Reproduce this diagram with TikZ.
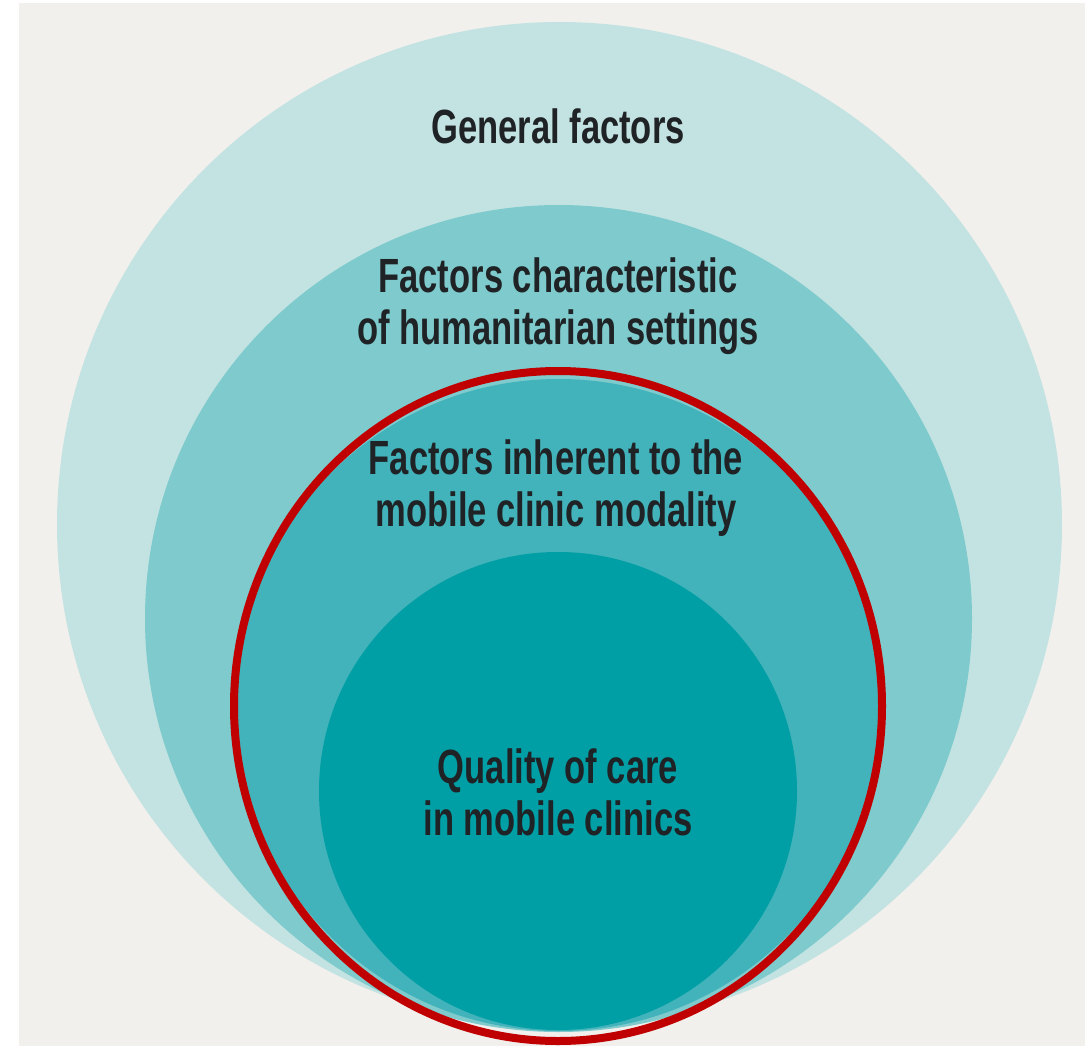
\documentclass[tikz,border=0pt]{standalone}
\usepackage{fontspec}
\newfontfamily\oswfont[FakeStretch=0.72]{Liberation Sans}
\definecolor{bggray}{HTML}{F2F0ED}
\definecolor{ringA}{HTML}{C3E3E2}
\definecolor{ringB}{HTML}{7ECACC}
\definecolor{ringC}{HTML}{42B3BA}
\definecolor{ringD}{HTML}{009FA6}
\definecolor{redline}{HTML}{C00000}
\definecolor{txt}{HTML}{1F2326}
\tikzset{
  lbl/.style={text=txt, align=center, font=\oswfont\bfseries\fontsize{48pt}{52pt}\selectfont, inner sep=0pt, anchor=center},
}
\begin{document}
\begin{tikzpicture}[x=1pt,y=-1pt]
\useasboundingbox (0,0) rectangle (1092,1046);
\fill[white] (0,0) rectangle (1092,1046);
\fill[bggray] (19,3) rectangle (1085,1046);
\fill[ringA] (559.5,524.5) circle[radius=502.5];
\fill[ringB] (558.5,618.5) circle[radius=413.5];
\fill[ringC] (558.5,705) ellipse[x radius=324, y radius=326];
\fill[ringD] (558,791) circle[radius=239];
\draw[redline, line width=8pt] (558,706) ellipse[x radius=324, y radius=335];
\node[lbl] (general) at (558,126) {General factors};
\node[lbl] (human) at (558,306) {Factors characteristic\\of humanitarian settings};
\node[lbl] (mobile) at (556,488) {Factors inherent to the\\mobile clinic modality};
\node[lbl] (quality) at (558,792) {Quality of care\\in mobile clinics};
\end{tikzpicture}
\end{document}
